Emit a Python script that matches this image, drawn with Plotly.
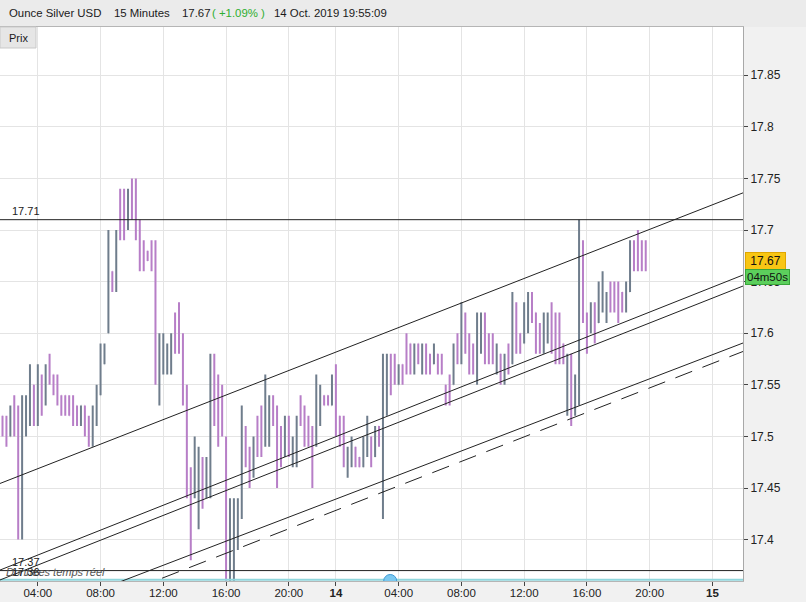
import plotly.graph_objects as go

# ---------------- data ----------------
bar_index = list(range(165))
highs = [17.52,17.52,17.53,17.54,17.53,17.54,17.54,17.57,17.55,17.57,
         17.56,17.57,17.58,17.56,17.56,17.54,17.54,17.54,17.54,17.53,
         17.53,17.53,17.52,17.53,17.55,17.59,17.59,17.70,17.66,17.70,
         17.74,17.74,17.74,17.75,17.75,17.71,17.69,17.68,17.69,17.69,
         17.60,17.60,17.59,17.60,17.62,17.63,17.60,17.55,17.47,17.50,
         17.49,17.48,17.48,17.58,17.58,17.56,17.55,17.50,17.44,17.44,
         17.44,17.53,17.51,17.49,17.50,17.52,17.53,17.56,17.54,17.54,
         17.53,17.51,17.52,17.52,17.50,17.52,17.54,17.53,17.52,17.51,
         17.56,17.55,17.54,17.54,17.56,17.57,17.52,17.52,17.49,17.50,
         17.49,17.48,17.50,17.52,17.50,17.51,17.51,17.58,17.58,17.58,
         17.58,17.57,17.57,17.60,17.59,17.59,17.59,17.59,17.59,17.58,
         17.59,17.58,17.58,17.55,17.56,17.59,17.60,17.63,17.62,17.60,
         17.59,17.62,17.62,17.62,17.60,17.60,17.59,17.58,17.58,17.59,
         17.64,17.63,17.60,17.63,17.64,17.64,17.62,17.61,17.62,17.62,
         17.63,17.62,17.62,17.59,17.58,17.58,17.56,17.71,17.69,17.62,
         17.63,17.63,17.65,17.66,17.64,17.65,17.65,17.65,17.64,17.65,
         17.69,17.69,17.70,17.69,17.69]
lows = [17.50,17.49,17.50,17.50,17.40,17.40,17.50,17.51,17.51,17.51,
        17.52,17.53,17.55,17.54,17.53,17.52,17.52,17.52,17.51,17.51,
        17.51,17.50,17.49,17.49,17.51,17.54,17.57,17.60,17.64,17.64,
        17.69,17.69,17.70,17.71,17.69,17.66,17.66,17.67,17.66,17.55,
        17.53,17.56,17.56,17.56,17.58,17.58,17.53,17.44,17.38,17.44,
        17.41,17.43,17.44,17.44,17.51,17.49,17.50,17.35,17.35,17.35,
        17.39,17.42,17.47,17.45,17.46,17.48,17.48,17.49,17.49,17.51,
        17.45,17.47,17.48,17.48,17.47,17.47,17.51,17.49,17.49,17.45,
        17.49,17.51,17.53,17.53,17.53,17.50,17.49,17.47,17.46,17.47,
        17.47,17.47,17.47,17.48,17.47,17.48,17.49,17.42,17.52,17.54,
        17.55,17.55,17.55,17.56,17.56,17.56,17.57,17.56,17.56,17.56,
        17.57,17.56,17.56,17.53,17.53,17.55,17.57,17.57,17.58,17.56,
        17.56,17.55,17.58,17.57,17.57,17.57,17.56,17.55,17.55,17.56,
        17.57,17.58,17.58,17.59,17.60,17.61,17.58,17.58,17.58,17.59,
        17.58,17.57,17.57,17.57,17.52,17.51,17.52,17.53,17.61,17.58,
        17.60,17.59,17.61,17.62,17.61,17.62,17.62,17.61,17.62,17.62,
        17.64,17.66,17.66,17.66,17.66]
opens = [17.52,17.51,17.50,17.53,17.52,17.45,17.51,17.53,17.55,17.52,
         17.55,17.54,17.57,17.56,17.55,17.54,17.54,17.53,17.53,17.53,
         17.52,17.53,17.51,17.50,17.52,17.54,17.57,17.60,17.66,17.65,
         17.73,17.73,17.71,17.74,17.74,17.70,17.68,17.68,17.68,17.67,
         17.56,17.57,17.57,17.57,17.61,17.62,17.59,17.54,17.46,17.45,
         17.43,17.47,17.45,17.46,17.57,17.55,17.54,17.49,17.37,17.38,
         17.40,17.43,17.50,17.48,17.47,17.51,17.52,17.50,17.50,17.53,
         17.52,17.50,17.49,17.51,17.48,17.48,17.53,17.52,17.51,17.50,
         17.50,17.52,17.54,17.54,17.53,17.56,17.52,17.51,17.47,17.48,
         17.49,17.48,17.47,17.49,17.50,17.48,17.51,17.49,17.55,17.57,
         17.57,17.55,17.57,17.59,17.59,17.57,17.59,17.57,17.58,17.58,
         17.57,17.58,17.57,17.55,17.55,17.55,17.59,17.58,17.61,17.59,
         17.58,17.56,17.59,17.61,17.59,17.59,17.57,17.58,17.56,17.58,
         17.57,17.62,17.60,17.59,17.61,17.63,17.62,17.60,17.59,17.60,
         17.62,17.61,17.61,17.59,17.53,17.56,17.53,17.54,17.68,17.61,
         17.60,17.62,17.61,17.63,17.62,17.64,17.64,17.64,17.64,17.63,
         17.64,17.68,17.69,17.68,17.68]
closes = [17.51,17.50,17.52,17.51,17.45,17.52,17.53,17.56,17.52,17.56,
          17.53,17.56,17.56,17.55,17.54,17.53,17.53,17.52,17.52,17.52,
          17.53,17.51,17.50,17.52,17.54,17.58,17.58,17.66,17.65,17.69,
          17.71,17.70,17.73,17.72,17.70,17.67,17.67,17.67,17.67,17.57,
          17.59,17.59,17.58,17.59,17.59,17.59,17.55,17.46,17.43,17.48,
          17.47,17.45,17.47,17.56,17.53,17.51,17.51,17.38,17.42,17.42,
          17.43,17.50,17.48,17.46,17.49,17.49,17.49,17.54,17.53,17.52,
          17.47,17.48,17.51,17.49,17.49,17.51,17.52,17.50,17.50,17.46,
          17.55,17.54,17.53,17.53,17.55,17.51,17.50,17.48,17.48,17.49,
          17.48,17.47,17.49,17.51,17.48,17.50,17.50,17.56,17.57,17.55,
          17.56,17.56,17.56,17.57,17.57,17.58,17.58,17.58,17.57,17.57,
          17.58,17.57,17.56,17.54,17.54,17.58,17.58,17.62,17.59,17.57,
          17.57,17.61,17.61,17.59,17.58,17.58,17.58,17.56,17.57,17.57,
          17.63,17.59,17.59,17.62,17.63,17.62,17.59,17.59,17.61,17.61,
          17.59,17.59,17.58,17.58,17.57,17.53,17.55,17.69,17.62,17.59,
          17.62,17.60,17.64,17.65,17.63,17.63,17.63,17.62,17.63,17.64,
          17.68,17.67,17.67,17.67,17.67]

x_tick_vals = [9, 25, 41, 57, 73, 85, 101, 117, 133, 149, 165, 181]
x_tick_text = ["04:00", "08:00", "12:00", "16:00", "20:00", "<b>14</b>",
               "04:00", "08:00", "12:00", "16:00", "20:00", "<b>15</b>"]
y_tick_vals = [17.40, 17.45, 17.50, 17.55, 17.60, 17.65, 17.70, 17.75, 17.80, 17.85]
y_tick_text = ["17.4", "17.45", "17.5", "17.55", "17.6", "17.65", "17.7", "17.75", "17.8", "17.85"]

x_range = [-0.64, 188.8]
y_range = [17.3599, 17.8967]

# drawn trend lines (value at left and right edge of the plot)
channel_top = [17.4544, 17.7360]
channel_mid_a = [17.3705, 17.6564]
channel_mid_b = [17.3609, 17.6457]
channel_low = [17.3145, 17.5905]
channel_dash = [17.3013, 17.5823]
level_high = 17.71
level_low = 17.37
realtime_level = 17.3612
realtime_marker_x = 98.85
last_price = 17.67

FONT = "Liberation Sans, Arial, sans-serif"
fig = go.Figure()

fig.add_trace(go.Ohlc(
    x=bar_index, open=opens, high=highs, low=lows, close=closes,
    increasing=dict(line=dict(color="#6f7d8c", width=2)),
    decreasing=dict(line=dict(color="#b77ec7", width=2)),
    tickwidth=0.05, hoverinfo="skip", showlegend=False))

def line(yvals, color="#222222", width=1, dash="solid", xs=None):
    fig.add_trace(go.Scatter(x=xs if xs else x_range, y=yvals, mode="lines",
                             line=dict(color=color, width=width, dash=dash),
                             hoverinfo="skip", showlegend=False))

line([realtime_level, realtime_level], color="#8fd6dc", width=2)
line([level_high, level_high])
line([level_low, level_low])
line(channel_top)
line(channel_mid_a)
line(channel_mid_b)
line(channel_low)
line(channel_dash, dash="18px,11px")

fig.add_trace(go.Scatter(x=[realtime_marker_x], y=[y_range[0]], mode="markers",
                         marker=dict(size=13, color="#7cc9f0", line=dict(color="#3d9ad6", width=1)),
                         cliponaxis=True, hoverinfo="skip", showlegend=False))

PW = 743.0
PH = 554.0
def px_x(p):
    return p / PW
def px_y(p):
    return 1 - (p - 27) / PH

annotations = []
# level labels
annotations.append(dict(xref="paper", yref="y", x=px_x(10), y=level_high, yanchor="bottom",
                        xanchor="left", yshift=1, showarrow=False, text="17.71",
                        font=dict(size=11, color="#222", family=FONT)))
annotations.append(dict(xref="paper", yref="y", x=px_x(10), y=level_low, yanchor="bottom",
                        xanchor="left", yshift=1, showarrow=False, text="17.37",
                        font=dict(size=11, color="#222", family=FONT)))
annotations.append(dict(xref="paper", yref="y", x=px_x(4), y=realtime_level, yanchor="bottom",
                        xanchor="left", yshift=0, showarrow=False, text="<i>Données temps réel</i>",
                        font=dict(size=11, color="#555", family=FONT)))
annotations.append(dict(xref="paper", yref="y", x=px_x(10), y=realtime_level, yanchor="bottom",
                        xanchor="left", yshift=0, showarrow=False, text="17.36",
                        font=dict(size=11, color="#222", family=FONT)))
# last price boxes
annotations.append(dict(xref="paper", yref="y", x=px_x(745), y=last_price, xanchor="left",
                        yanchor="middle", showarrow=False, text=" 17.67 ",
                        bgcolor="#f8c614", bordercolor="#e0a600", borderwidth=1, borderpad=1,
                        font=dict(size=12, color="#111", family=FONT)))
annotations.append(dict(xref="paper", yref="y", x=px_x(745), y=last_price, xanchor="left",
                        yanchor="middle", yshift=-16, showarrow=False, text="04m50s",
                        bgcolor="#5ccf5c", bordercolor="#3aa53a", borderwidth=1, borderpad=1,
                        font=dict(size=11.5, color="#111", family=FONT)))
# header
hy = px_y(13)
header_parts = [(7, "Ounce Silver USD", "#1a1a1a"), (112, "15 Minutes", "#1a1a1a"),
                (180, "17.67", "#1a1a1a"), (210, "( +1.09% )", "#2fae2f"),
                (272, "14 Oct. 2019 19:55:09", "#1a1a1a")]
for xp, txt, col in header_parts:
    annotations.append(dict(xref="paper", yref="paper", x=px_x(xp), y=hy, xanchor="left",
                            yanchor="middle", showarrow=False, text=txt,
                            font=dict(size=11.4, color=col, family=FONT)))
annotations.append(dict(xref="paper", yref="paper", x=px_x(7), y=px_y(37.5), xanchor="left",
                        yanchor="middle", showarrow=False, text="Prix",
                        font=dict(size=11, color="#1a1a1a", family=FONT)))

shapes = [
    dict(type="rect", xref="paper", yref="paper", x0=0, x1=806 / PW, y0=1, y1=px_y(0),
         fillcolor="#ebebeb", line=dict(width=0), layer="below"),
    dict(type="rect", xref="paper", yref="paper", x0=0, x1=px_x(36), y0=px_y(48), y1=1,
         fillcolor="#e6e6e6", line=dict(color="#c9c9c9", width=1), layer="above"),
]

fig.update_layout(
    width=806, height=602,
    margin=dict(l=0, r=63, t=27, b=21, autoexpand=False),
    paper_bgcolor="#f1f1f1", plot_bgcolor="#ffffff",
    font=dict(family=FONT, size=12, color="#222"),
    showlegend=False,
    annotations=annotations, shapes=shapes,
    xaxis=dict(range=x_range, tickvals=x_tick_vals, ticktext=x_tick_text,
               showgrid=True, gridcolor="#e4e4e4", gridwidth=1, zeroline=False,
               ticks="outside", ticklen=4, tickcolor="#444", ticklabelstandoff=-3,
               tickfont=dict(size=11.5, color="#222", family=FONT),
               showline=True, linecolor="#b5b5b5", mirror=True,
               rangeslider=dict(visible=False), fixedrange=True),
    yaxis=dict(range=y_range, side="right", tickvals=y_tick_vals, ticktext=y_tick_text,
               showgrid=True, gridcolor="#e4e4e4", gridwidth=1, zeroline=False,
               ticks="outside", ticklen=4, tickcolor="#444",
               tickfont=dict(size=12, color="#222", family=FONT),
               showline=True, linecolor="#a8a8a8", mirror=True, fixedrange=True),
)

fig.write_html("out.html", config={"displayModeBar": False})
